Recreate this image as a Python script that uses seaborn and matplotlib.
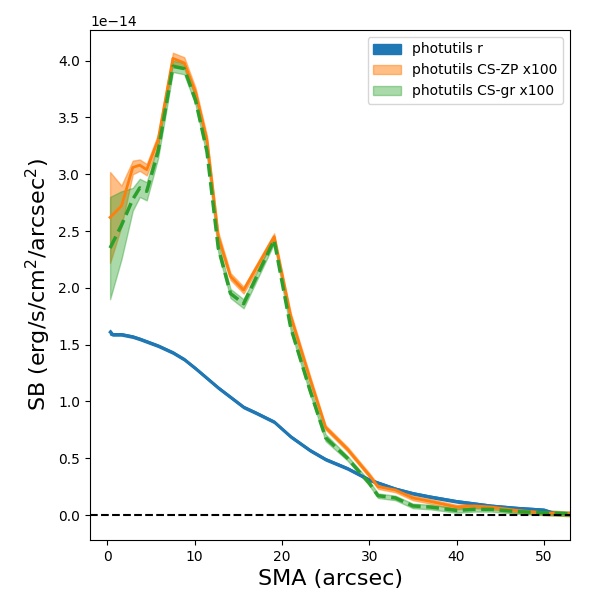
import numpy as np
import seaborn as sns
import matplotlib.pyplot as plt

sma = [0.3, 1.6, 2.9, 3.7, 4.5, 5.8, 7.5, 8.8, 10.1, 11.4, 12.7, 14.1, 15.6, 19.1,
       21.0, 23.2, 25.0, 27.5, 30.0, 31.0, 33.0, 35.0, 37.0, 40.0, 42.0, 44.0, 47.0, 50.0, 53.0]
sb_zp = [2.62, 2.72, 3.06, 3.08, 3.04, 3.30, 4.02, 3.98, 3.72, 3.30, 2.45, 2.10, 1.98, 2.45,
         1.75, 1.20, 0.77, 0.58, 0.35, 0.25, 0.22, 0.15, 0.12, 0.07, 0.08, 0.07, 0.04, 0.02, 0.01]
err_zp = [0.40, 0.18, 0.06, 0.05, 0.05, 0.05, 0.05, 0.05, 0.04, 0.04, 0.04, 0.03, 0.03, 0.03,
          0.03, 0.03, 0.02, 0.02, 0.02, 0.02, 0.02, 0.02, 0.02, 0.02, 0.02, 0.02, 0.02, 0.02, 0.02]
sb_gr = [2.35, 2.55, 2.78, 2.88, 2.85, 3.20, 3.95, 3.93, 3.65, 3.20, 2.35, 1.95, 1.86, 2.42,
         1.65, 1.10, 0.68, 0.50, 0.28, 0.17, 0.15, 0.08, 0.07, 0.04, 0.05, 0.05, 0.03, 0.02, 0.01]
err_gr = [0.45, 0.30, 0.10, 0.08, 0.08, 0.06, 0.05, 0.05, 0.04, 0.04, 0.04, 0.04, 0.04, 0.03,
          0.03, 0.03, 0.03, 0.02, 0.02, 0.02, 0.02, 0.02, 0.02, 0.02, 0.02, 0.02, 0.02, 0.02, 0.02]

sma_r = [0.3, 0.6, 1.6, 2.9, 3.7, 5.8, 7.5, 8.8, 10.1, 12.7, 15.6, 17.0, 19.1, 21.0, 23.2,
         25.0, 27.5, 30.0, 33.0, 35.0, 37.0, 40.0, 42.0, 44.0, 47.0, 50.0, 51.0]
sb_r = [1.61, 1.59, 1.59, 1.57, 1.55, 1.49, 1.43, 1.37, 1.29, 1.12, 0.95, 0.90, 0.82, 0.69, 0.57,
        0.49, 0.41, 0.31, 0.23, 0.19, 0.16, 0.12, 0.10, 0.08, 0.06, 0.045, 0.02]
err_r = [0.02] + [0.01] * (len(sb_r) - 1)

scale = 1e-14
x = np.array(sma)
xr = np.array(sma_r)
zp, ezp = np.array(sb_zp) * scale, np.array(err_zp) * scale
gr, egr = np.array(sb_gr) * scale, np.array(err_gr) * scale
r, er = np.array(sb_r) * scale, np.array(err_r) * scale

fig, ax = plt.subplots(figsize=(6, 6), dpi=100)
c = sns.color_palette('tab10')

ax.fill_between(xr, r - er, r + er, color=c[0], label='photutils r')
sns.lineplot(x=xr, y=r, ax=ax, color=c[0], lw=2)
ax.fill_between(x, zp - ezp, zp + ezp, color=c[1], alpha=0.5, label='photutils CS-ZP x100')
sns.lineplot(x=x, y=zp, ax=ax, color=c[1], lw=2)
ax.fill_between(x, gr - egr, gr + egr, color=c[2], alpha=0.4, label='photutils CS-gr x100')
sns.lineplot(x=x, y=gr, ax=ax, color=c[2], lw=2.5, linestyle='--')

ax.axhline(0, color='k', linestyle='--', lw=1.5)
ax.set_xlim(-2, 53)
ax.set_ylim(-0.22e-14, 4.27e-14)
ax.set_xlabel('SMA (arcsec)', fontsize=16)
ax.set_ylabel(r'SB (erg/s/cm$^2$/arcsec$^2$)', fontsize=16)
ax.legend(loc='upper right')
plt.subplots_adjust(left=0.15, right=0.95, bottom=0.1, top=0.95)
plt.savefig('out.png')
